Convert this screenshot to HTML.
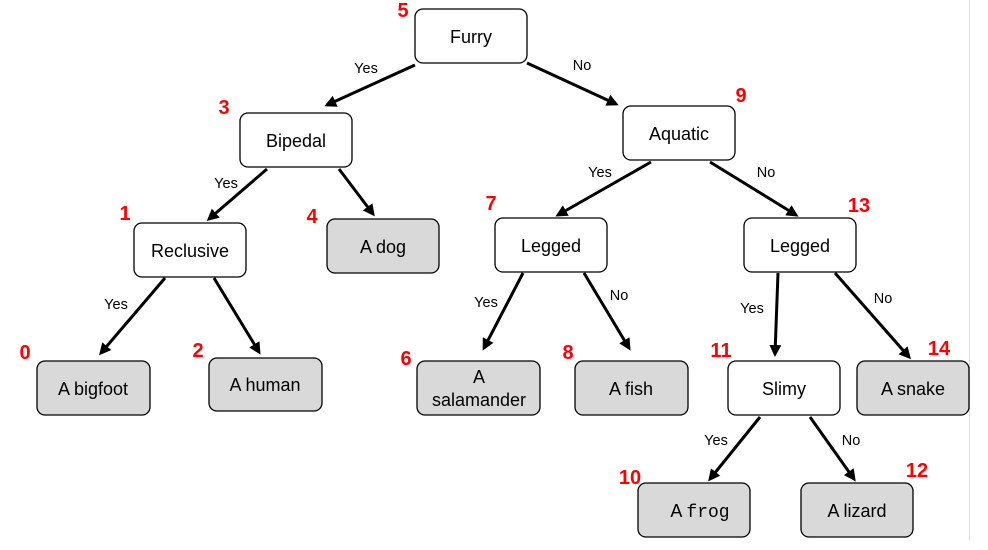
<!DOCTYPE html>
<html><head><meta charset="utf-8"><style>
html,body{margin:0;padding:0;background:#fff;width:988px;height:550px;overflow:hidden}
svg{display:block}
.b{fill:#fff;stroke:#000;stroke-width:1.3}
.g{fill:#d9d9d9;stroke:#000;stroke-width:1.3}
.t{font-family:"Liberation Sans",sans-serif;font-size:18px;text-anchor:middle;fill:#000}
.l{font-family:"Liberation Sans",sans-serif;font-size:14.5px;text-anchor:middle;fill:#000}
.n{font-family:"Liberation Sans",sans-serif;font-size:20px;font-weight:bold;text-anchor:middle;fill:#f00}
line{stroke:#000;stroke-width:3;marker-end:url(#a)}
</style></head><body>
<svg width="988" height="550" viewBox="0 0 988 550">
<defs><marker id="a" markerWidth="4" markerHeight="4" refX="3" refY="2" orient="auto" markerUnits="strokeWidth"><path d="M0,0 L4,2 L0,4 Z" fill="#000"/></marker></defs>
<line x1="969.5" y1="0" x2="969.5" y2="540" style="stroke:#ddd;stroke-width:1;marker-end:none"/>
<g>
<line x1="415" y1="65" x2="327" y2="105"/>
<line x1="527" y1="63" x2="616" y2="104"/>
<line x1="267" y1="169" x2="209" y2="219"/>
<line x1="339" y1="169" x2="373" y2="214"/>
<line x1="651" y1="162" x2="558" y2="215"/>
<line x1="710" y1="162" x2="796" y2="215"/>
<line x1="165" y1="278" x2="101" y2="353"/>
<line x1="214" y1="278" x2="259" y2="352"/>
<line x1="523" y1="273" x2="484" y2="348"/>
<line x1="584" y1="273" x2="629" y2="348"/>
<line x1="778" y1="273" x2="775" y2="354"/>
<line x1="835" y1="273" x2="909" y2="357"/>
<line x1="760" y1="417" x2="710" y2="479"/>
<line x1="810" y1="417" x2="854" y2="479"/>
</g>
<rect class="b" x="415" y="9" width="112" height="54" rx="8"/><text class="t" x="471" y="43">Furry</text>
<rect class="b" x="240" y="113" width="112" height="54" rx="8"/><text class="t" x="296" y="147">Bipedal</text>
<rect class="b" x="134" y="223" width="112" height="54" rx="8"/><text class="t" x="190" y="257">Reclusive</text>
<rect class="g" x="327" y="219" width="112" height="54" rx="8"/><text class="t" x="383" y="253">A dog</text>
<rect class="b" x="623" y="106" width="112" height="54" rx="8"/><text class="t" x="679" y="140">Aquatic</text>
<rect class="b" x="495" y="218" width="112" height="54" rx="8"/><text class="t" x="551" y="252">Legged</text>
<rect class="b" x="744" y="218" width="112" height="54" rx="8"/><text class="t" x="800" y="252">Legged</text>
<rect class="g" x="37" y="361" width="113" height="54" rx="8"/><text class="t" x="93" y="395">A bigfoot</text>
<rect class="g" x="209" y="358" width="113" height="53" rx="8"/><text class="t" x="265" y="391">A human</text>
<rect class="g" x="417" y="361" width="123" height="54" rx="8"/><text class="t" x="479" y="383">A</text><text class="t" x="479" y="406">salamander</text>
<rect class="g" x="575" y="361" width="113" height="54" rx="8"/><text class="t" x="631" y="395">A fish</text>
<rect class="b" x="728" y="361" width="112" height="54" rx="8"/><text class="t" x="784" y="395">Slimy</text>
<rect class="g" x="857" y="361" width="112" height="54" rx="8"/><text class="t" x="913" y="395">A snake</text>
<rect class="g" x="638" y="483" width="112" height="54" rx="8"/><text class="t" x="700" y="517">A <tspan style="font-family:'Liberation Mono',monospace">frog</tspan></text>
<rect class="g" x="801" y="483" width="112" height="54" rx="8"/><text class="t" x="857" y="517">A lizard</text>
<text class="l" x="366" y="73">Yes</text>
<text class="l" x="582" y="70">No</text>
<text class="l" x="226" y="188">Yes</text>
<text class="l" x="116" y="309">Yes</text>
<text class="l" x="600" y="177">Yes</text>
<text class="l" x="766" y="177">No</text>
<text class="l" x="486" y="307">Yes</text>
<text class="l" x="619" y="300">No</text>
<text class="l" x="752" y="313">Yes</text>
<text class="l" x="883" y="303">No</text>
<text class="l" x="716" y="445">Yes</text>
<text class="l" x="851" y="445">No</text>
<text class="n" x="403" y="17">5</text>
<text class="n" x="224" y="114">3</text>
<text class="n" x="125" y="220">1</text>
<text class="n" x="312" y="223">4</text>
<text class="n" x="741" y="102">9</text>
<text class="n" x="491" y="210">7</text>
<text class="n" x="859" y="212">13</text>
<text class="n" x="25" y="359">0</text>
<text class="n" x="198" y="357">2</text>
<text class="n" x="406" y="365">6</text>
<text class="n" x="568" y="359">8</text>
<text class="n" x="721" y="357">11</text>
<text class="n" x="939" y="355">14</text>
<text class="n" x="630" y="484">10</text>
<text class="n" x="917" y="477">12</text>
</svg>
</body></html>
